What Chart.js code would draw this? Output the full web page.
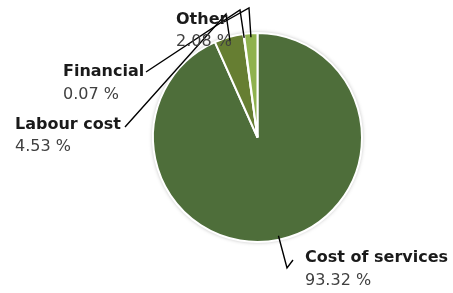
<!DOCTYPE html>
<html>
<head>
<meta charset="utf-8">
<script src="https://cdn.jsdelivr.net/npm/chart.js"></script>
<style>
  html,body{margin:0;padding:0;background:#fff;}
  #wrap{width:453px;height:293px;position:relative;}
</style>
</head>
<body>
<div id="wrap"><canvas id="pie"></canvas></div>
<script>
// cost breakdown, percent
const labels = ['Cost of services', 'Labour cost', 'Financial', 'Other'];
const values = [93.32, 4.53, 0.07, 2.08];
const colors = ['#4e6e3a', '#667e32', '#5f7d3c', '#8fb24e'];

// label placement (left x, name centre y, value centre y) + leader elbow
const labelPos = [
  {x:305, y:258, vy:281, from:[293,260], elbow:[287,268]},
  {x:15,  y:125, vy:147, from:[125,127], elbow:[226,14]},
  {x:63,  y:72,  vy:95,  from:[146,72],  elbow:[240,10]},
  {x:176, y:20,  vy:42,  from:[224,22],  elbow:[249,8]}
];

const FONT = '"DejaVu Sans", Verdana, sans-serif';

// soft grey ring behind the pie
const shadowPlugin = {
  id:'shadow',
  beforeDatasetsDraw(chart){
    const arc = chart.getDatasetMeta(0).data[0];
    if(!arc) return;
    const ctx = chart.ctx;
    ctx.save();
    ctx.beginPath();
    ctx.arc(arc.x, arc.y, arc.outerRadius, 0, Math.PI*2);
    ctx.fillStyle = '#fff';
    ctx.shadowColor = 'rgba(0,0,0,0.35)';
    ctx.shadowBlur = 4;
    ctx.fill();
    ctx.restore();
  }
};

const labelPlugin = {
  id:'labels',
  afterDatasetsDraw(chart){
    const ctx = chart.ctx;
    const arcs = chart.getDatasetMeta(0).data;
    ctx.save();
    arcs.forEach((a, i)=>{
      const p = labelPos[i];
      const mid = (a.startAngle + a.endAngle) / 2;
      const ex = a.x + Math.cos(mid) * (a.outerRadius - 4);
      const ey = a.y + Math.sin(mid) * (a.outerRadius - 4);
      // leader line
      ctx.beginPath();
      ctx.strokeStyle = '#000';
      ctx.lineWidth = 1.4;
      ctx.moveTo(p.from[0], p.from[1]);
      ctx.lineTo(p.elbow[0], p.elbow[1]);
      ctx.lineTo(ex, ey);
      ctx.stroke();
      // text
      ctx.textBaseline = 'middle';
      ctx.textAlign = 'left';
      ctx.fillStyle = '#1a1a1a';
      ctx.font = 'bold 16px ' + FONT;
      ctx.fillText(labels[i], p.x, p.y);
      ctx.fillStyle = '#404040';
      ctx.font = '16px ' + FONT;
      ctx.fillText(values[i].toFixed(2) + ' %', p.x, p.vy);
    });
    ctx.restore();
  }
};

new Chart(document.getElementById('pie'), {
  type:'pie',
  data:{
    labels: labels,
    datasets:[{
      data: values,
      backgroundColor: colors,
      borderColor: '#fff',
      borderWidth: 2,
      hoverOffset: 0
    }]
  },
  options:{
    responsive:true,
    maintainAspectRatio:false,
    animation:false,
    layout:{padding:{left:152, right:90, top:32, bottom:50}},
    plugins:{legend:{display:false}, tooltip:{enabled:false}}
  },
  plugins:[shadowPlugin, labelPlugin]
});
</script>
</body>
</html>
